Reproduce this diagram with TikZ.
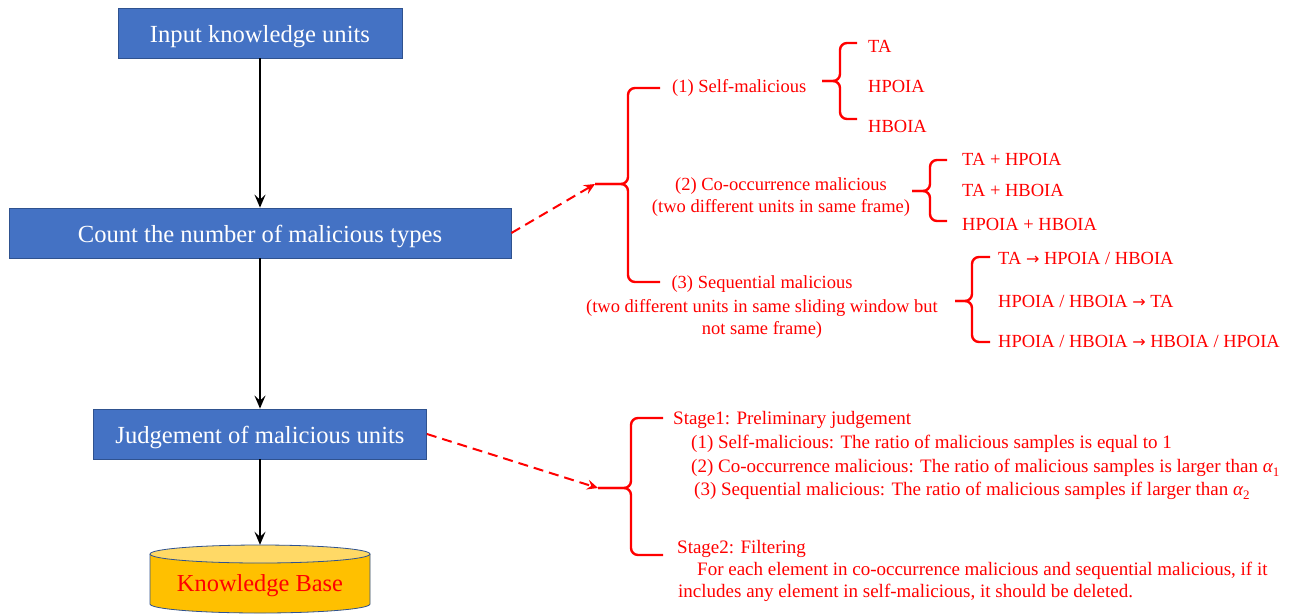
\documentclass[tikz,border=0pt]{standalone}
\usepackage{fontspec}
\setmainfont{Liberation Serif}
\newfontfamily\arrowfont{DejaVu Sans}
\usetikzlibrary{arrows.meta}
\definecolor{boxblue}{HTML}{4472C4}
\definecolor{boxline}{HTML}{2F528F}
\definecolor{kbbody}{HTML}{FFC000}
\definecolor{kbtop}{HTML}{FFD966}
\definecolor{myred}{HTML}{FF0000}
\newcommand{\redbrace}[6]{% tipx tipy vx top bottom armx
  \draw[bracel] (#6,#4) -- (#3,#4) -- (#3,#2) -- (#1,#2);
  \draw[bracel] (#1,#2) -- (#3,#2) -- (#3,#5) -- (#6,#5);}
\newcommand{\alphasub}[1]{{\itshape α}\raisebox{-0.25em}{\fontsize{13}{13}\selectfont #1}}
\newcommand{\rarr}{{\arrowfont\fontsize{16}{16}\selectfont →}}
\begin{document}
\begin{tikzpicture}[x=1pt,y=-1pt,
 box/.style={draw=boxline,line width=0.8pt,fill=boxblue,text=white,font=\fontsize{24.6}{28}\selectfont,inner sep=0pt,text height=23pt,text depth=5pt},
 rtext/.style={text=myred,font=\fontsize{18.5}{23}\selectfont,inner sep=0pt},
 btext/.style={text=myred,font=\fontsize{19}{23}\selectfont,inner sep=0pt,anchor=base west},
 flow/.style={-{Stealth[length=13pt,width=11pt,inset=5pt]},line width=1.8pt},
 dasharrow/.style={myred,line width=2pt,dash pattern=on 10pt off 6pt,-{Stealth[length=11pt,width=10pt,inset=4pt]}},
 bracel/.style={myred,line width=2.4pt,rounded corners=7pt}]

\useasboundingbox (0,0) rectangle (1306,614);

% main flow boxes
\node[box,minimum width=284pt,minimum height=50pt] (in) at (260,33) {Input knowledge units};
\node[box,minimum width=502pt,minimum height=50pt] (count) at (260,233) {Count the number of malicious types};
\node[box,minimum width=333pt,minimum height=50pt] (judge) at (260,434) {Judgement of malicious units};

% knowledge base cylinder
\filldraw[fill=kbbody,draw=boxline,line width=0.8pt] (150,554) -- (150,604)
  arc[start angle=180,end angle=360,x radius=110pt,y radius=9pt] -- (370,554);
\filldraw[fill=kbtop,draw=boxline,line width=0.8pt] (260,554) ellipse[x radius=110pt,y radius=9pt];
\node[minimum width=220pt,minimum height=69pt,inner sep=0pt,text height=28pt,text depth=5pt,
  text=myred,font=\fontsize{24.4}{28}\selectfont] (kb) at (260,579.5) {Knowledge Base};

\draw[flow] (in.south) -- (count.north);
\draw[flow] (count.south) -- (judge.north);
\draw[flow] (judge.south) -- (kb.north);

% braces
\coordinate (b1tip) at (595,184);
\coordinate (b5tip) at (598,488);
\redbrace{595}{184}{628}{88}{282}{660}
\redbrace{822}{81}{840}{43}{119}{857}
\redbrace{912}{191}{930}{160}{221}{947}
\redbrace{955}{301}{972}{257}{342}{990}
\redbrace{598}{488}{631}{418}{555}{663}

\draw[dasharrow] (count.east) -- (b1tip);
\draw[dasharrow] (judge.east) -- (b5tip);

% upper classification texts
\node[rtext,anchor=base west] (t1) at (672,92) {(1) Self-malicious};
\node[rtext,anchor=base west] (t1a) at (868,52) {TA};
\node[rtext,anchor=base west] (t1b) at (868,92) {HPOIA};
\node[rtext,anchor=base west] (t1c) at (868,132) {HBOIA};

\node[rtext,anchor=base] (t2) at (781,190) {(2) Co-occurrence malicious};
\node[rtext,anchor=base] (t2s) at (781,212) {(two different units in same frame)};
\node[rtext,anchor=base west] (t2a) at (962,165) {TA + HPOIA};
\node[rtext,anchor=base west] (t2b) at (962,196) {TA + HBOIA};
\node[rtext,anchor=base west] (t2c) at (962,230) {HPOIA + HBOIA};

\node[rtext,anchor=base] (t3) at (762,288) {(3) Sequential malicious};
\node[rtext,anchor=base] (t3s) at (762,312) {(two different units in same sliding window but};
\node[rtext,anchor=base] (t3t) at (762,334) {not same frame)};
\node[rtext,anchor=base west] (t3a) at (998,264) {TA \rarr{} HPOIA / HBOIA};
\node[rtext,anchor=base west] (t3b) at (998,307) {HPOIA / HBOIA \rarr{} TA};
\node[rtext,anchor=base west] (t3c) at (998,347) {HPOIA / HBOIA \rarr{} HBOIA / HPOIA};

% judgement texts
\node[btext] (s1) at (673,424) {Stage1: Preliminary judgement};
\node[btext] (s1a) at (691,448) {(1) Self-malicious: The ratio of malicious samples is equal to 1};
\node[btext] (s1b) at (691,472) {(2) Co-occurrence malicious: The ratio of malicious samples is larger than \alphasub{1}};
\node[btext] (s1c) at (694,495) {(3) Sequential malicious: The ratio of malicious samples if larger than \alphasub{2}};
\node[btext] (s2) at (677,553) {Stage2: Filtering};
\node[btext] (s2a) at (697,575) {For each element in co-occurrence malicious and sequential malicious, if it};
\node[btext] (s2b) at (678,597) {includes any element in self-malicious, it should be deleted.};
\end{tikzpicture}
\end{document}
